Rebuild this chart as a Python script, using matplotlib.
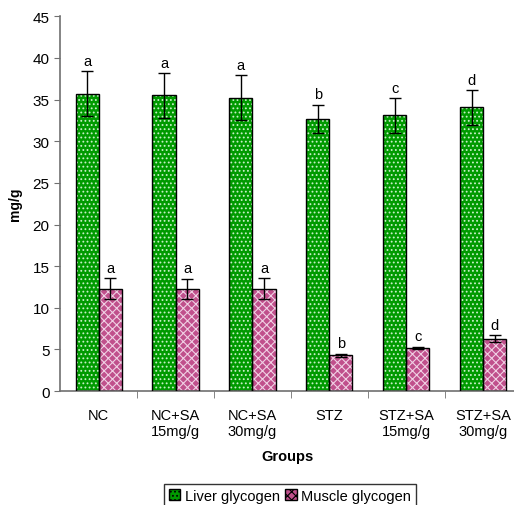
import matplotlib
matplotlib.use("Agg")
import matplotlib.pyplot as plt
import numpy as np
from matplotlib.patches import Patch

plt.rcParams['font.family'] = ['Liberation Sans', 'DejaVu Sans']
plt.rcParams['hatch.linewidth'] = 0.8

groups = ['NC', 'NC+SA\n15mg/g', 'NC+SA\n30mg/g', 'STZ', 'STZ+SA\n15mg/g', 'STZ+SA\n30mg/g']
liver = [35.7, 35.5, 35.2, 32.7, 33.1, 34.05]
liver_err = [2.7, 2.7, 2.7, 1.7, 2.1, 2.1]
liver_sig = ['a', 'a', 'a', 'b', 'c', 'd']
muscle = [12.3, 12.3, 12.3, 4.3, 5.2, 6.3]
muscle_err = [1.3, 1.2, 1.3, 0.2, 0.15, 0.45]
muscle_sig = ['a', 'a', 'a', 'b', 'c', 'd']

liver_col = '#009a00'
liver_hatch = '#c8f0c8'
muscle_col = '#c0508c'
muscle_hatch = '#f0d0e4'

fig = plt.figure(figsize=(5.14, 5.06), dpi=100)
ax = fig.add_axes([0.117, 0.225, 0.883, 0.741])

x = np.arange(len(groups))
w = 0.3

# filled bars with pattern, then black outlines on top
ax.bar(x - w / 2, liver, w, color=liver_col, edgecolor=liver_hatch, hatch='....', linewidth=0, zorder=2)
ax.bar(x - w / 2, liver, w, facecolor='none', edgecolor='black', linewidth=1.0, zorder=3)
ax.bar(x + w / 2, muscle, w, color=muscle_col, edgecolor=muscle_hatch, hatch='xxxx', linewidth=0, zorder=2)
ax.bar(x + w / 2, muscle, w, facecolor='none', edgecolor='black', linewidth=1.0, zorder=3)

ax.errorbar(x - w / 2, liver, yerr=liver_err, fmt='none', ecolor='black', elinewidth=1, capsize=4, zorder=4)
ax.errorbar(x + w / 2, muscle, yerr=muscle_err, fmt='none', ecolor='black', elinewidth=1, capsize=4, zorder=4)

for xi, v, e, s in zip(x, liver, liver_err, liver_sig):
    ax.text(xi - w / 2, v + e + 0.4, s, ha='center', va='bottom', fontsize=10.5)
for xi, v, e, s in zip(x, muscle, muscle_err, muscle_sig):
    ax.text(xi + w / 2, v + e + 0.4, s, ha='center', va='bottom', fontsize=10.5)

ax.set_xlim(-0.5, 5.4)
ax.set_ylim(0, 45)
ax.set_yticks(range(0, 46, 5))
ax.tick_params(axis='y', labelsize=11, length=4, color='#707070')

ax.set_xticks(x)
ax.set_xticklabels(groups, fontsize=10.5)
ax.tick_params(axis='x', length=0, pad=12)
ax.set_xticks(np.arange(0.5, 5.0, 1.0), minor=True)
ax.tick_params(axis='x', which='minor', length=5, color='#707070', direction='out')

for side in ['top', 'right']:
    ax.spines[side].set_visible(False)
for side in ['left', 'bottom']:
    ax.spines[side].set_color('#707070')
    ax.spines[side].set_linewidth(1.2)

ax.set_ylabel('mg/g', fontsize=10, fontweight='bold', labelpad=8)
ax.set_xlabel('Groups', fontsize=10.5, fontweight='bold', labelpad=8)

handles = [
    Patch(facecolor=liver_col, edgecolor='black', hatch='....', label='Liver glycogen'),
    Patch(facecolor=muscle_col, edgecolor='black', hatch='xxxx', label='Muscle glycogen'),
]
leg = fig.legend(handles=handles, loc='lower center', bbox_to_anchor=(0.564, -0.004), ncol=2,
                 fontsize=10.5, frameon=True, fancybox=False, borderpad=0.3, handlelength=0.8,
                 handleheight=0.8, handletextpad=0.3, columnspacing=0.4, borderaxespad=0)
leg.get_frame().set_edgecolor('black')
leg.get_frame().set_linewidth(1.0)

fig.savefig('out.png', dpi=100)
